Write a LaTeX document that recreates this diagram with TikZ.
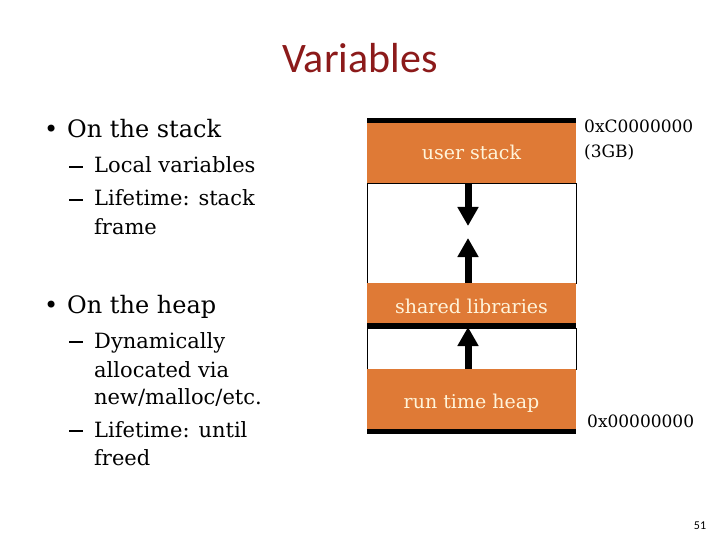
\documentclass[tikz,border=0pt]{standalone}
\usepackage{fontspec}
\setmainfont{DejaVu Serif}
\newfontfamily\titlefont{Carlito}
\usetikzlibrary{arrows.meta,positioning}
\definecolor{titlered}{HTML}{8C1A1A}
\definecolor{segorange}{HTML}{DF7A36}
\definecolor{segtext}{HTML}{FFF4DA}
\newcommand{\subdash}{\rule[5pt]{14pt}{1.8pt}}
\tikzset{
  seg_orange/.style={fill=segorange,minimum width=209pt,inner sep=0pt,outer sep=0pt},
  seg_white/.style={draw=black,line width=0.8pt,fill=white,minimum width=209pt,inner sep=0pt,outer sep=0pt},
  seg_bar/.style={fill=black,minimum width=209pt,minimum height=5pt,inner sep=0pt,outer sep=0pt},
  seg_text/.style={anchor=base,text=segtext,inner sep=0pt,font=\fontsize{19}{22}\selectfont},
  addr/.style={anchor=base west,inner sep=0pt,font=\fontsize{17}{20}\selectfont},
  item_main/.style={anchor=base west,inner sep=0pt,font=\fontsize{24}{28}\selectfont},
  item_sub/.style={anchor=base west,inner sep=0pt,font=\fontsize{21}{24}\selectfont},
  grow_arr/.style={-{Triangle[width=20pt,length=19pt]},line width=7pt},
}

\begin{document}
\begin{tikzpicture}[x=1pt,y=-1pt]
    \useasboundingbox[fill=white] (0,0) rectangle (720,540);

    % title
    \node[anchor=base,inner sep=0pt,text=titlered,font=\titlefont\fontsize{42}{50}\selectfont] (title) at (360,73) {Variables};

    % bullet text
    \node[item_main] (stack_dot) at (44,138) {\textbullet};
    \node[item_main] (stack) at (67,138) {On the stack};
    \node[item_sub] (local_dash) at (69,173) {\subdash};
    \node[item_sub] (local) at (94,173) {Local variables};
    \node[item_sub] (life1_dash) at (69,206) {\subdash};
    \node[item_sub] (life1) at (94,206) {Lifetime: stack};
    \node[item_sub] (life1b) at (94,234) {frame};

    \node[item_main] (heap_dot) at (44,313) {\textbullet};
    \node[item_main] (heapitem) at (67,313) {On the heap};
    \node[item_sub] (dyn_dash) at (69,348) {\subdash};
    \node[item_sub] (dyn) at (94,348) {Dynamically};
    \node[item_sub] (dynb) at (94,377) {allocated via};
    \node[item_sub] (dync) at (94,404) {new/malloc/etc.};
    \node[item_sub] (life2_dash) at (69,437) {\subdash};
    \node[item_sub] (life2) at (94,437) {Lifetime: until};
    \node[item_sub] (life2b) at (94,465) {freed};

    % memory layout
    \node[seg_bar,anchor=north] (topbar) at (471.5,118) {};
    \node[seg_orange,minimum height=60pt,below=0pt of topbar] (ustack) {};
    \node[seg_white,minimum height=100pt,below=0pt of ustack] (gap1) {};
    \node[seg_orange,minimum height=40pt,below=0pt of gap1] (shlib) {};
    \node[seg_white,minimum height=41pt,below=5pt of shlib] (gap2) {};
    \node[seg_orange,minimum height=60pt,below=0pt of gap2] (heap) {};
    \node[seg_bar,below=0pt of heap] (botbar) {};

    \node[seg_text] (ustack_txt) at (471.5,160) {user stack};
    \node[seg_text] (shlib_txt) at (471.5,313) {shared libraries};
    \node[seg_text] (heap_txt) at (471.5,408) {run time heap};

    \coordinate (down_tip) at (468,226);
    \coordinate (up_tip) at (468,238);
    \coordinate (heap_tip) at (468,327);
    \draw[grow_arr] (ustack.south -| down_tip) -- (down_tip);
    \draw[grow_arr] (shlib.north -| up_tip) -- (up_tip);
    \draw[grow_arr] (heap.north -| heap_tip) -- (heap_tip);
    \node[seg_bar,below=0pt of shlib] (midbar) {};

    % addresses
    \node[addr] (addr_top) at (584,133) {0xC0000000};
    \node[addr] (addr_gb) at (584,158) {(3GB)};
    \node[addr] (addr_bot) at (587,427) {0x00000000};

    \node[anchor=base,inner sep=0pt,font=\titlefont\fontsize{12}{14}\selectfont] (pagenum) at (700,529) {51};
  \end{tikzpicture}
\end{document}
